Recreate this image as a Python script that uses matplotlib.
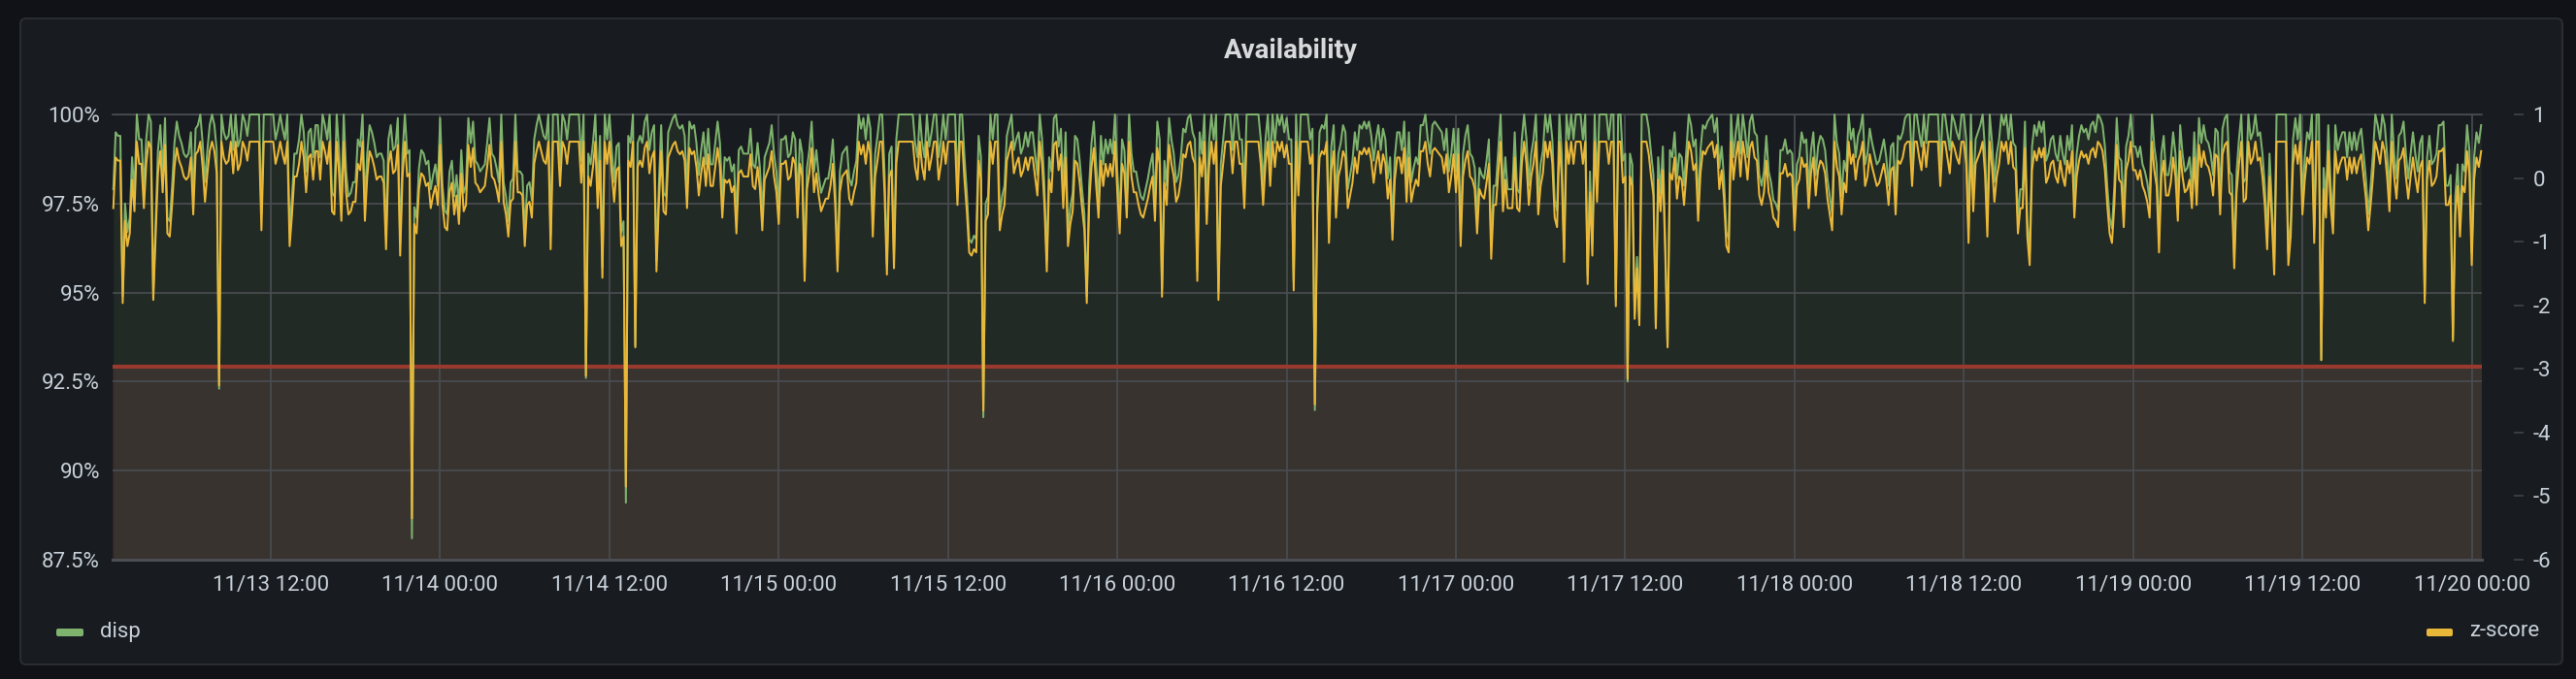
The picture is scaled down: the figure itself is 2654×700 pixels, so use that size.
import numpy as np
import matplotlib
matplotlib.use("Agg")
import matplotlib.pyplot as plt
from matplotlib.patches import FancyBboxPatch
from matplotlib.transforms import IdentityTransform

plt.rcParams['font.family'] = ['Roboto', 'DejaVu Sans']

# ---------------- data (disp availability %, 10-minute samples) ----------------
disp_seg1 = [
    97.9, 99.5, 99.4, 99.4, 94.9, 97.5, 96.7, 97.1, 98.8, 97.8,
    100, 99.3, 99.3, 97.9, 99.3, 100, 99.8, 95.0, 97.0, 99.0,
    99.7, 98.4, 99.9, 97.1, 97.0, 98.0, 99.2, 99.8, 99.4, 99.2,
    98.9, 98.8, 98.9, 99.5, 97.7, 99.6, 99.7, 100, 99.2, 98.1,
    99.0, 99.7, 100, 99.7, 99.0, 92.3, 100, 99.5, 99.3, 99.4,
    100, 99.0, 100, 99.1, 99.3, 100, 99.8, 99.4, 100, 100,
    100, 100, 100, 97.2, 100, 100, 100, 100, 100, 99.3,
    99.6, 100, 99.6, 99.3, 100, 96.7, 97.7, 98.9, 98.9, 99.3,
    100, 99.5, 98.4, 99.5, 99.6, 98.8, 99.7, 99.7, 98.8, 100,
    99.7, 99.3, 100, 97.8, 97.7, 100, 99.0, 97.5, 100, 98.4,
    97.7, 97.8, 98.1, 98.1, 99.3, 99.1, 100, 97.5, 98.9, 99.7,
    99.5, 99.2, 98.8, 98.9, 98.9, 98.7, 96.6, 99.3, 99.7, 99.0,
    99.1, 99.9, 96.4, 98.9, 100, 98.9, 99.0, 88.1, 97.4, 97.1,
    98.5, 99.0, 98.9, 98.6, 98.7, 97.9, 98.3, 98.6, 98.0, 99.9,
    98.0, 97.3, 97.2, 98.4, 98.7, 97.7, 98.3, 97.4, 99.0, 97.8,
    98.0, 99.9, 99.2, 99.8, 98.7, 98.6, 98.4, 98.5, 98.6, 99.2,
    99.9, 98.9, 98.8, 98.5, 98.1, 100, 98.1, 97.7, 97.0,
]
disp_seg2 = [
    98.1, 98.2, 100, 98.4, 98.4, 98.3, 96.7, 98.0, 98.1, 97.6,
    99.3, 99.7, 100, 99.7, 99.4, 99.3, 100, 96.6, 100, 100,
    100, 98.6, 100, 99.8, 99.3, 100, 100, 100, 100, 100,
    98.7, 100, 92.6, 98.9, 98.6, 99.2, 100, 97.9, 99.4, 95.7,
    100, 99.3, 100, 99.0, 98.1, 99.1, 99.2, 96.7, 97.0, 89.1,
    99.4, 99.2, 100, 93.5, 99.2, 99.4, 99.2, 99.8, 100, 99.0,
    99.5, 99.7, 95.9, 98.0, 99.7, 97.8, 97.7, 99.5, 99.7, 99.9,
    100, 99.7, 99.6, 99.7, 99.4, 97.9, 99.8, 99.6, 99.7, 99.2,
    98.3, 99.0, 99.5, 98.6, 99.6, 98.6, 98.6, 99.2, 99.8, 99.2,
    97.6, 98.8, 98.7, 98.8, 98.4, 98.6, 97.1, 99.0, 99.1, 98.9,
    98.9, 98.9, 99.6, 98.6, 98.5, 99.2, 98.5, 97.2, 98.8, 99.0,
    99.2, 99.7, 98.9, 98.4, 97.4, 99.3, 99.3, 99.4, 98.8, 98.9,
    99.5, 99.3, 97.6, 99.3, 98.9, 95.6, 98.5, 99.0, 99.8, 98.4,
    99.0, 98.3, 97.8, 98.0, 98.2, 98.2, 98.6, 99.3, 98.0, 95.9,
    98.4, 98.9, 99.0, 99.1, 98.2, 98.0, 98.4, 98.7, 100, 99.6,
    99.9, 99.3, 100, 99.6, 97.0, 98.9, 99.4, 100, 100, 98.4,
    95.8, 98.9, 99.1, 96.0, 99.3, 100, 100, 100, 100, 100,
]
disp_seg3 = [
    100, 100, 99.2, 98.8, 100, 99.2, 98.8, 100, 99.1, 99.5,
    100, 100, 98.8, 99.3, 100, 99.3, 100, 100, 100, 100,
    98.0, 100, 100, 98.8, 97.8, 96.5, 96.4, 96.6, 96.5, 99.4,
    98.8, 91.5, 97.5, 97.7, 100, 99.3, 100, 100, 97.2, 97.7,
    98.0, 99.4, 99.7, 100, 99.0, 99.3, 99.5, 98.9, 99.1, 99.5,
    99.1, 99.5, 99.5, 98.9, 98.3, 100, 99.3, 98.0, 95.9, 98.8,
    98.4, 99.9, 100, 99.1, 99.6, 97.9, 99.5, 96.7, 97.4, 97.8,
    99.4, 99.3, 98.7, 97.9, 97.2, 94.9, 98.0, 99.2, 99.8, 98.6,
    97.6, 99.4, 98.6, 99.3, 98.9, 99.3, 98.9, 100, 98.4, 97.1,
    99.3, 99.0, 97.6, 100, 98.9, 98.4, 98.4, 98.0, 97.7, 97.6,
    97.9, 98.2, 98.6, 98.9, 97.5, 99.8, 99.3, 95.1, 98.7, 98.0,
    99.9, 99.3, 98.9, 98.1, 98.3, 98.8, 99.6, 99.5, 99.9, 100,
    99.5, 99.3, 95.6, 99.5, 98.9, 100, 97.4, 99.2, 100, 99.3,
    100, 95.0, 98.6, 99.3, 100, 100, 100, 99.0, 100, 100,
    99.3, 99.3, 97.9, 100, 100, 100, 100, 100, 100, 99.3,
    98.0, 99.3, 100, 98.6, 100, 99.2, 100, 99.7, 100, 99.5,
    99.9, 99.3, 99.3, 95.3, 100, 98.3, 100, 100, 100,
]
disp_seg4 = [
    100, 99.3, 99.6, 91.7, 97.7, 99.5, 99.7, 99.6, 100, 96.8,
    99.1, 99.7, 97.6, 98.9, 99.2, 99.7, 99.5, 97.9, 98.3, 98.7,
    99.5, 99.0, 99.7, 99.6, 99.8, 99.6, 99.8, 99.4, 98.7, 99.3,
    99.7, 99.0, 99.6, 99.3, 98.2, 98.8, 96.9, 98.8, 99.5, 99.5,
    99.0, 99.8, 98.1, 99.5, 98.1, 98.5, 98.8, 98.6, 99.7, 99.7,
    100, 99.3, 98.9, 99.7, 99.8, 99.7, 99.6, 99.5, 99.0, 99.6,
    98.4, 98.9, 99.6, 98.4, 99.6, 96.7, 98.9, 99.4, 99.7, 98.9,
    98.8, 98.5, 97.1, 98.5, 98.3, 98.2, 98.7, 99.3, 96.3, 98.0,
    98.0, 99.0, 100, 97.8, 98.8, 97.9, 97.9, 97.9, 99.5, 97.9,
    97.8, 99.3, 100, 99.3, 98.0, 98.9, 99.3, 100, 97.7, 98.6,
    99.0, 100, 99.5, 100, 99.3, 97.6, 97.3, 100, 98.9, 96.2,
    100, 99.3, 100, 99.3, 100, 100, 100, 99.3, 100, 95.5,
    98.4, 96.4, 100, 98.1, 100, 100, 100, 100, 99.3, 100,
    100, 94.8, 100, 100, 98.7, 98.9, 92.5, 98.9, 98.6, 94.4,
    96.0, 94.2, 100, 100, 100, 99.6, 98.9, 98.3, 94.1, 98.8,
    97.8, 99.1, 96.5, 93.5, 99.0, 98.8, 99.5, 98.2, 98.9, 98.8,
    98.0, 99.0, 100, 99.7, 99.1, 99.3, 97.5, 99.0, 99.7, 99.6,
]
disp_seg5 = [
    99.8, 99.9, 100, 99.5, 99.9, 98.5, 99.1, 98.2, 96.7, 96.5,
    100, 98.8, 99.5, 100, 98.9, 100, 99.5, 98.8, 99.8, 100,
    99.5, 99.4, 98.3, 98.0, 98.4, 99.4, 98.4, 98.1, 97.6, 97.5,
    97.3, 99.0, 99.0, 99.3, 98.9, 99.0, 98.9, 97.2, 98.6, 98.8,
    99.5, 99.2, 99.3, 97.9, 99.0, 99.5, 98.3, 99.1, 99.4, 99.3,
    99.0, 98.2, 97.7, 97.2, 100, 99.2, 98.9, 97.7, 98.7, 98.4,
    100, 99.3, 99.6, 98.8, 99.4, 99.6, 100, 98.6, 98.9, 99.6,
    99.2, 98.9, 98.6, 98.7, 99.0, 99.3, 98.8, 98.0, 99.1, 99.2,
    97.7, 99.4, 99.3, 99.5, 99.9, 100, 100, 98.6, 100, 100,
    99.5, 99.1, 100, 99.2, 100, 100, 100, 100, 100, 98.6,
    100, 100, 99.5, 99.0, 100, 99.8, 99.5, 99.3, 100, 100,
    99.3, 96.8, 100, 97.8, 99.3, 99.5, 99.7, 100, 99.0, 97.0,
    100, 99.2, 98.1, 98.9, 99.3, 100, 99.7, 100, 99.3, 100,
    99.2, 99.1, 97.1, 97.9, 97.9, 99.8, 97.0, 96.1, 99.1, 99.7,
    99.4, 99.8, 99.5, 99.8, 98.7, 98.9, 99.3, 99.4, 98.9, 98.7,
    99.4, 98.9, 98.6, 99.4, 99.0, 99.7, 97.6, 98.9, 99.4, 99.7,
    99.5, 99.6, 99.3, 99.7, 99.8, 99.5, 100, 99.9, 99.7,
]
disp_seg6 = [
    99.1, 98.0, 97.1, 96.8, 98.0, 99.9, 98.8, 98.7, 97.3, 99.1,
    99.4, 100, 99.1, 99.1, 98.8, 99.1, 98.6, 98.4, 98.1, 97.6,
    100, 99.1, 98.6, 96.5, 98.9, 99.4, 98.3, 98.3, 98.7, 99.5,
    98.9, 97.5, 99.7, 98.9, 98.4, 98.5, 98.8, 97.9, 99.5, 98.0,
    99.9, 99.2, 99.7, 99.3, 99.2, 98.9, 98.3, 99.6, 99.5, 97.7,
    99.6, 99.9, 100, 98.4, 98.3, 96.0, 98.4, 99.3, 100, 98.1,
    98.2, 100, 99.3, 99.5, 100, 99.4, 99.5, 98.9, 98.0, 96.6,
    98.9, 97.5, 95.8, 100, 100, 100, 100, 100, 96.1, 97.0,
    99.3, 99.9, 99.3, 100, 97.7, 98.8, 99.5, 99.3, 100, 96.8,
    100, 100, 93.1, 98.5, 97.6, 99.7, 98.0, 97.1, 99.7, 99.0,
    99.3, 99.5, 99.5, 98.8, 99.5, 99.0, 99.5, 99.0, 99.4, 99.6,
    98.9, 98.2, 97.2, 98.0, 98.9, 100, 99.7, 99.3, 100, 99.7,
    98.9, 97.8, 100, 98.9, 98.2, 99.4, 99.5, 99.8, 98.9, 98.2,
    98.9, 99.5, 98.9, 98.4, 99.2, 99.4, 94.9, 98.8, 99.4, 98.6,
    98.7, 98.9, 99.7, 99.7, 99.8, 98.0, 98.0, 98.3, 93.7, 97.7,
    98.6, 97.0, 98.6, 98.4, 99.7, 99.0, 96.1, 98.8, 99.5, 99.2,
    99.7,
]

TITLE = "Availability"
SERIES_NAMES = ["disp", "z-score"]
START = np.datetime64('2023-11-13T00:50')
STEP = np.timedelta64(10, 'm')
Z_MEAN = 98.85          # mean used for the z-score series
Z_STD = 2.01            # std used for the z-score series
THRESHOLD_PCT = 92.92   # red threshold line
X_RANGE = (np.datetime64('2023-11-13T00:47'), np.datetime64('2023-11-20T00:43'))
LEFT_TICKS = [87.5, 90, 92.5, 95, 97.5, 100]
LEFT_LABELS = ['87.5%', '90%', '92.5%', '95%', '97.5%', '100%']
RIGHT_TICKS = [-6, -5, -4, -3, -2, -1, 0, 1]
RIGHT_LABELS = ['-6', '-5', '-4', '-3', '-2', '-1', '0', '1']
X_TICKS = [np.datetime64('2023-11-13T12:00') + np.timedelta64(12 * k, 'h') for k in range(14)]
X_LABELS = ['11/13 12:00', '11/14 00:00', '11/14 12:00', '11/15 00:00', '11/15 12:00',
            '11/16 00:00', '11/16 12:00', '11/17 00:00', '11/17 12:00', '11/18 00:00',
            '11/18 12:00', '11/19 00:00', '11/19 12:00', '11/20 00:00']

disp = np.array(disp_seg1 + disp_seg2 + disp_seg3 + disp_seg4 + disp_seg5 + disp_seg6)
t = START + np.arange(len(disp)) * STEP
zscore = (disp - Z_MEAN) / Z_STD

# ---------------- styling ----------------
W, H = 2654, 700
BG = '#111217'
PANEL = '#181b1f'
TXT = '#c7d0d9'
GREEN = '#7eb26d'
YELLOW = '#eab839'
GRID = '#4a4d51'

fig = plt.figure(figsize=(W / 100, H / 100), dpi=100)
fig.patch.set_facecolor(BG)


def box(x0, y0, x1, y1, r, **kw):
    p = FancyBboxPatch((x0, H - y1), x1 - x0, y1 - y0,
                       boxstyle=f"round,pad=0,rounding_size={r}",
                       transform=IdentityTransform(), **kw)
    fig.add_artist(p)
    return p


box(21, 19, 2640, 685, 6, facecolor=PANEL, edgecolor='#2a2d32', linewidth=1.4, zorder=-1)

L, R, T, B = 116, 2557, 118, 577
ax = fig.add_axes([L / W, 1 - B / H, (R - L) / W, (B - T) / H])
ax.patch.set_alpha(0)
ax.set_xlim(*X_RANGE)
ax.set_ylim(87.5, 100)

ax.axhspan(87.5, THRESHOLD_PCT, facecolor=(234 / 255, 112 / 255, 112 / 255, 0.12), lw=0, zorder=0.8)
ax.fill_between(t, disp, 87.5, color=GREEN, alpha=0.10, lw=0, zorder=0.9)
ax.axhline(THRESHOLD_PCT, color='#983a2e', lw=3.0, zorder=1.6)
ax.plot(t, disp, color=GREEN, lw=1.45, zorder=2, clip_on=False)

ax.set_xticks(X_TICKS)
ax.set_xticklabels(X_LABELS)
ax.set_yticks(LEFT_TICKS)
ax.set_yticklabels(LEFT_LABELS)
ax.set_axisbelow('line')
ax.grid(True, color=GRID, lw=1.2)
ax.axhline(100, color=GRID, lw=1.2, zorder=1.5, clip_on=False)
ax.axhline(87.5, color='#4c5055', lw=2.2, zorder=1.5, clip_on=False)
ax.tick_params(axis='y', length=0, pad=9.4, labelsize=16, labelcolor=TXT)
ax.tick_params(axis='x', length=0, pad=11.5, labelsize=16, labelcolor=TXT)
for s in ax.spines.values():
    s.set_visible(False)

ax2 = ax.twinx()
ax2.set_ylim(-6, 1)
ax2.plot(t, zscore, color=YELLOW, lw=1.45, zorder=2, clip_on=False)
ax2.set_yticks(RIGHT_TICKS)
ax2.set_yticklabels(RIGHT_LABELS)
for s in ax2.spines.values():
    s.set_visible(False)
ax2.spines['right'].set_position(('outward', 24))
ax2.tick_params(axis='y', length=7.2, width=1.1, color='#44474c', pad=6.5,
                labelsize=16, labelcolor=TXT)

# title
fig.text(1330 / W, 1 - 52 / H, TITLE, ha='center', va='center', fontsize=20,
         fontweight='semibold', color='#d8d9da')

# legend
box(58, 648, 86, 656, 2, facecolor=GREEN, edgecolor='none')
fig.text(103 / W, 1 - 651 / H, SERIES_NAMES[0], ha='left', va='center', fontsize=16, color=TXT)
box(2500, 648, 2527, 656, 2, facecolor=YELLOW, edgecolor='none')
fig.text(2544 / W, 1 - 651 / H, SERIES_NAMES[1], ha='left', va='center', fontsize=16, color=TXT)

fig.savefig('out.png', dpi=100, facecolor=BG)
